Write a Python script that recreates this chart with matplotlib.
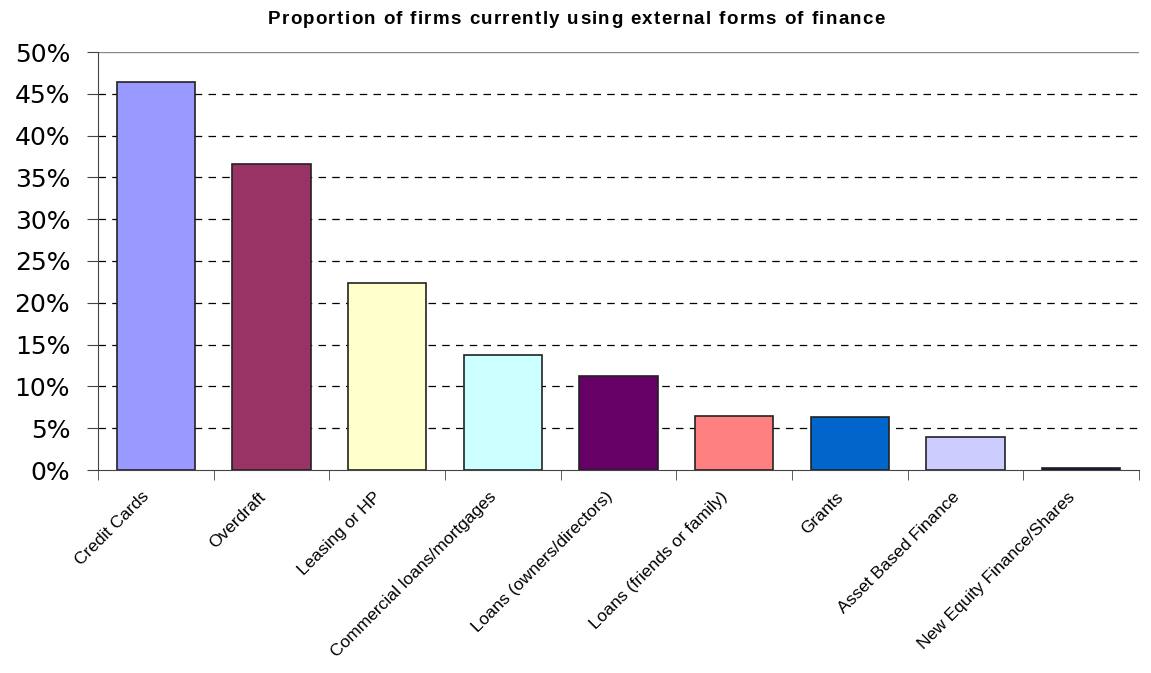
import matplotlib
matplotlib.use("Agg")
import matplotlib.pyplot as plt
import matplotlib.transforms as mtransforms
from matplotlib.font_manager import FontProperties
from matplotlib.ticker import FuncFormatter, FixedLocator
import numpy as np

categories = ["Credit Cards", "Overdraft", "Leasing or HP", "Commercial loans/mortgages",
              "Loans (owners/directors)", "Loans (friends or family)", "Grants",
              "Asset Based Finance", "New Equity Finance/Shares"]
values = [46.4, 36.6, 22.4, 13.8, 11.2, 6.5, 6.3, 4.0, 0.2]
colors = ["#9999FF", "#993366", "#FFFFCC", "#CCFFFF", "#660066", "#FF8080",
          "#0066CC", "#CCCCFF", "#000080"]
title = "Proportion of firms currently using external forms of finance"

W, H = 1151, 673
fig = plt.figure(figsize=(W/100, H/100), dpi=100)
ax = fig.add_axes([98/W, 1-470/H, (1139-98)/W, (470-52)/H])

x = np.arange(len(categories))
ax.bar(x, values, width=0.68, color=colors, edgecolor="#222222", linewidth=1.2, zorder=3)

ax.set_xlim(-0.5, len(categories)-0.5)
ax.set_ylim(0, 50)
ax.set_yticks(np.arange(0, 51, 5))
ax.yaxis.set_major_formatter(FuncFormatter(lambda v, p: f"{int(v)}%"))
for t in np.arange(5, 50, 5):
    ax.axhline(t, color="black", linestyle=(0, (6, 5)), linewidth=0.9, zorder=1)
ax.axhline(50, color="#888888", linewidth=1.0, zorder=1)

ax.set_xticks(x)
ax.set_xticklabels(categories, rotation=45, ha="right", rotation_mode="anchor", fontsize=12.5,
                   family="Liberation Sans")
ax.xaxis.set_minor_locator(FixedLocator(np.arange(-0.5, len(categories), 1)))
ax.tick_params(axis="x", which="major", length=0, pad=8)
ax.tick_params(axis="x", which="minor", length=7, color="#444444")
ax.tick_params(axis="y", length=8, pad=12, labelsize=18, color="#444444")
for lab in ax.get_yticklabels():
    lab.set_family("DejaVu Sans")
offset = mtransforms.ScaledTranslation(-14/100, -8/100, fig.dpi_scale_trans)
for lab in ax.get_xticklabels():
    lab.set_transform(lab.get_transform() + offset)

for s in ["top", "right"]:
    ax.spines[s].set_visible(False)
ax.spines["left"].set_color("#444444")
ax.spines["bottom"].set_color("#444444")

# Title with slight letter spacing (reference text is spread out)
fig.canvas.draw()
renderer = fig.canvas.get_renderer()
prop = FontProperties(family="Liberation Sans", weight="bold", size=13.5)
def tw(s):
    if not s:
        return 0.0
    w, h, d = renderer.get_text_width_height_descent(s, prop, ismath=False)
    return w
target_w = 617.0
nat_w = tw(title)
gap = max(0.0, (target_w - nat_w) / (len(title) - 1))
total = nat_w + gap * (len(title) - 1)
x0 = 576 - total / 2
yc = H - 20
for i, ch in enumerate(title):
    if ch == " ":
        continue
    xp = x0 + tw(title[:i]) + i * gap
    fig.text(xp / W, yc / H, ch, ha="left", va="center", fontproperties=prop)

fig.savefig("out.png", dpi=100, facecolor="white")
